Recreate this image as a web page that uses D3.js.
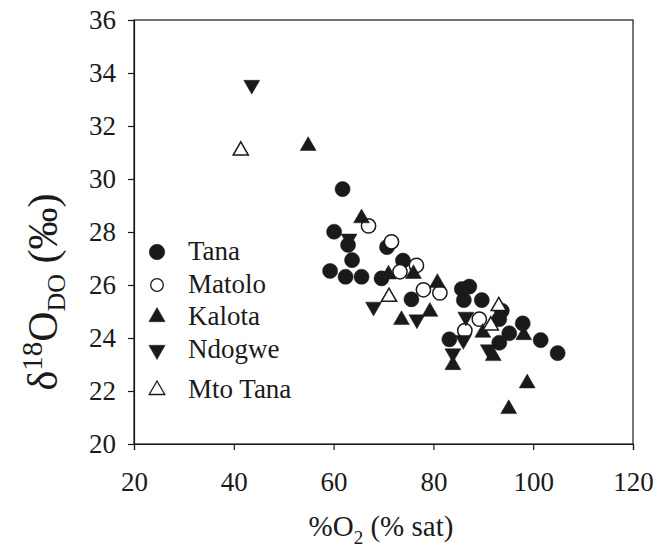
<!DOCTYPE html>
<html><head><meta charset="utf-8">
<script src="https://cdn.jsdelivr.net/npm/d3@7"></script>
<style>body{margin:0;background:#fff}svg{display:block}text{font-family:"Liberation Serif","Times New Roman","DejaVu Serif",serif;fill:#1a1a1a}</style>
</head><body>
<svg id="c" width="657" height="550"></svg>
<script>
const xTicks = [20, 40, 60, 80, 100, 120];
const yTicks = [20, 22, 24, 26, 28, 30, 32, 34, 36];
const seriesNames = ["Tana", "Matolo", "Kalota", "Ndogwe", "Mto Tana"];
const tana = [[61.8,29.62],[60.1,28.01],[62.9,27.51],[63.7,26.94],[59.3,26.53],[62.4,26.31],[65.6,26.31],[69.6,26.25],[70.7,27.43],[73.9,26.92],[75.6,25.46],[85.7,25.85],[87.2,25.94],[86.1,25.43],[89.7,25.43],[93.7,25.03],[93.2,24.71],[97.9,24.55],[95.2,24.18],[93.2,23.82],[101.5,23.92],[104.9,23.43],[83.2,23.95]];
const matolo = [[67.0,28.23],[71.6,27.63],[73.3,26.50],[76.6,26.74],[78.0,25.82],[81.3,25.70],[89.2,24.71],[86.3,24.28]];
const kalota = [[54.9,31.25],[65.6,28.52],[71.0,26.40],[76.0,26.42],[80.8,26.08],[73.6,24.68],[79.3,24.99],[89.9,24.2],[98.1,24.11],[92.0,23.32],[83.9,22.98],[98.8,22.29],[95.1,21.32]];
const ndogwe = [[43.6,33.55],[63.1,27.75],[68.0,25.18],[76.7,24.70],[86.5,24.80],[86.0,23.92],[91.0,23.57],[83.9,23.42]];
const mtoTana = [[41.4,31.07],[71.1,25.55],[93.1,25.2],[91.5,24.47]];

const serif = '"Liberation Serif","Times New Roman","DejaVu Serif",serif';
const svg = d3.select("#c");
const x = d3.scaleLinear().domain([20,120]).range([134,633]);
const y = d3.scaleLinear().domain([20,36]).range([444,20]);
const ink = "#1a1a1a";

svg.append("rect").attr("x",x(20)).attr("y",y(36)).attr("width",x(120)-x(20)).attr("height",y(20)-y(36))
  .attr("fill","none").attr("stroke",ink).attr("stroke-width",1.2);

const gx = svg.append("g").attr("transform",`translate(0,${y(20)})`)
  .call(d3.axisBottom(x).tickValues(xTicks).tickSize(6).tickPadding(22).tickFormat(d3.format("d")));
const gy = svg.append("g").attr("transform",`translate(${x(20)},0)`)
  .call(d3.axisLeft(y).tickValues(yTicks).tickSize(6).tickPadding(12).tickFormat(d3.format("d")));
[gx,gy].forEach(g=>{
  g.attr("font-family", serif).attr("font-size", 27);
  g.select(".domain").attr("stroke",ink).attr("stroke-width",1.2);
  g.selectAll(".tick line").attr("stroke",ink).attr("stroke-width",1.2);
  g.selectAll(".tick text").attr("fill",ink).style("font-family",serif);
});

const styles = {
  "Tana": {type:d3.symbolCircle, size:180, fill:ink, rot:0},
  "Matolo": {type:d3.symbolCircle, size:160, fill:"#fff", rot:0},
  "Kalota": {type:d3.symbolTriangle, size:110, fill:ink, rot:0},
  "Ndogwe": {type:d3.symbolTriangle, size:110, fill:ink, rot:180},
  "Mto Tana": {type:d3.symbolTriangle, size:100, fill:"#fff", rot:0}
};
const data = {"Tana":tana,"Matolo":matolo,"Kalota":kalota,"Ndogwe":ndogwe,"Mto Tana":mtoTana};

seriesNames.forEach(n=>{
  const s = styles[n];
  svg.append("g").selectAll("path").data(data[n]).join("path")
    .attr("d", d3.symbol().type(s.type).size(s.size))
    .attr("transform", d=>`translate(${x(d[0])},${y(d[1])}) rotate(${s.rot})`)
    .attr("fill", s.fill).attr("stroke", ink).attr("stroke-width", s.fill==="#fff"?1.5:0.5);
});

const legY = [252, 285, 317, 350, 390];
seriesNames.forEach((n,i)=>{
  const s = styles[n];
  svg.append("path").attr("d", d3.symbol().type(s.type).size(n==="Matolo"?125:s.size*1.05))
    .attr("transform",`translate(157,${legY[i]}) rotate(${s.rot})`)
    .attr("fill", s.fill).attr("stroke", ink).attr("stroke-width", s.fill==="#fff"?1.3:0.5);
  svg.append("text").attr("x",188).attr("y",legY[i]+8).attr("font-family",serif).attr("font-size",27).text(n);
});

const xt = svg.append("text").attr("x",381).attr("y",536).attr("text-anchor","middle").attr("font-family",serif).attr("font-size",29);
xt.append("tspan").text("%O");
xt.append("tspan").attr("dy",8).attr("font-size",19).text("2");
xt.append("tspan").attr("dy",-8).text(" (% sat)");

const yt = svg.append("text").attr("transform","translate(57,292) rotate(-90)").attr("text-anchor","middle").attr("font-family",serif).attr("font-size",42);
yt.append("tspan").text("δ");
yt.append("tspan").attr("dy",-15).attr("font-size",29).text("18");
yt.append("tspan").attr("dy",15).text("O");
yt.append("tspan").attr("dy",8).attr("font-size",26).text("DO");
yt.append("tspan").attr("dy",-8).text(" (‰)");
</script>
</body></html>
